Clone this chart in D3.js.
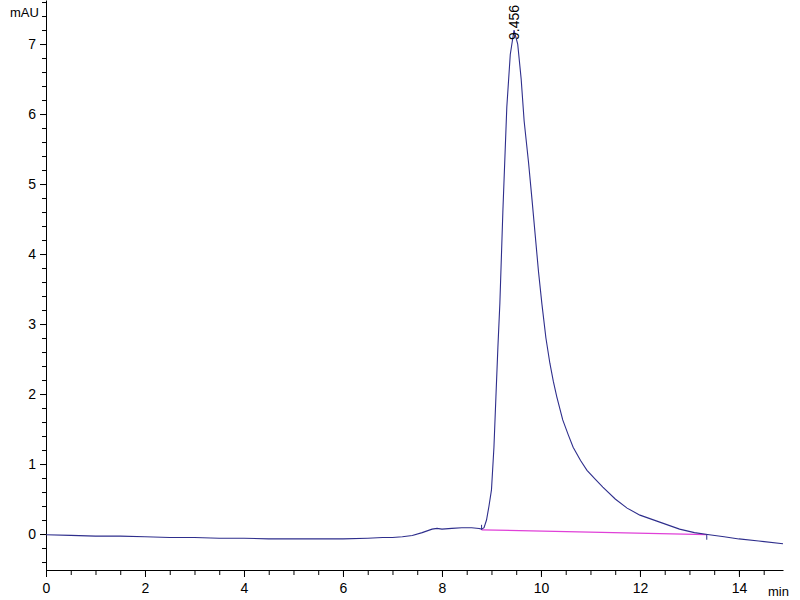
<!DOCTYPE html>
<html>
<head>
<meta charset="utf-8">
<script src="https://cdn.jsdelivr.net/npm/d3@7/dist/d3.min.js"></script>
<style>
  html, body { margin: 0; padding: 0; background: #fff; }
  svg text { font-family: "Liberation Sans", Arial, sans-serif; fill: #000; }
</style>
</head>
<body>
<svg id="chart" width="800" height="600"></svg>
<script>
// chromatogram trace (min, mAU)
var times = [0, 0.5, 1.0, 1.5, 2.0, 2.5, 3.0, 3.5, 4.0, 4.5, 5.0, 5.5, 6.0, 6.5, 6.8, 7.0, 7.2, 7.4, 7.6, 7.8, 7.9, 8.0, 8.2, 8.4, 8.6, 8.75, 8.8, 8.85, 8.9, 8.95, 9.0, 9.05, 9.09, 9.13, 9.17, 9.23, 9.31, 9.38, 9.456, 9.53, 9.6, 9.66, 9.75, 9.82, 9.95, 10.02, 10.1, 10.18, 10.25, 10.32, 10.44, 10.55, 10.65, 10.8, 10.93, 11.1, 11.25, 11.5, 11.74, 12.0, 12.4, 12.8, 13.1, 13.4, 13.7, 14.0, 14.4, 14.89];
var signal = [-0.01, -0.02, -0.03, -0.03, -0.04, -0.05, -0.05, -0.06, -0.06, -0.07, -0.07, -0.07, -0.07, -0.06, -0.05, -0.05, -0.04, -0.02, 0.02, 0.07, 0.08, 0.07, 0.08, 0.09, 0.09, 0.08, 0.07, 0.09, 0.2, 0.4, 0.63, 1.24, 1.96, 2.67, 3.3, 4.6, 6.1, 6.85, 7.2, 7.0, 6.5, 5.9, 5.3, 4.77, 3.75, 3.28, 2.8, 2.44, 2.18, 1.96, 1.63, 1.42, 1.24, 1.05, 0.91, 0.78, 0.67, 0.5, 0.37, 0.27, 0.17, 0.07, 0.02, -0.01, -0.04, -0.07, -0.1, -0.14];

// integration baseline
var baseTimes = [8.8, 13.35];
var baseValues = [0.06, -0.01];

var peakTime = 9.456;
var peakLabel = "9.456";

var xMajor = [0, 2, 4, 6, 8, 10, 12, 14];
var yMajor = [0, 1, 2, 3, 4, 5, 6, 7];

var svg = d3.select("#chart");
var x = d3.scaleLinear().domain([0, 14.89]).range([46, 783]);
var y = d3.scaleLinear().domain([-0.514, 7.629]).range([570, 0]);

// x axis
var xAxisMinor = d3.axisBottom(x).tickValues(d3.range(0, 14.9, 0.5)).tickSize(5).tickFormat("");
svg.append("g").attr("transform", "translate(0,570)").call(xAxisMinor)
  .call(function (g) { g.select(".domain").remove(); })
  .selectAll("line").attr("stroke", "#000");
var xAxis = d3.axisBottom(x).tickValues(xMajor).tickSize(7).tickSizeOuter(0).tickPadding(6);
svg.append("g").attr("transform", "translate(0,570)").call(xAxis)
  .call(function (g) {
    g.selectAll("text").attr("font-size", 14).attr("font-family", "Liberation Sans, Arial, sans-serif");
    g.select(".domain").attr("stroke", "#000");
  });

// y axis
var yAxisMinor = d3.axisLeft(y).tickValues(d3.range(-0.4, 7.7, 0.2)).tickSize(4).tickFormat("");
svg.append("g").attr("transform", "translate(46,0)").call(yAxisMinor)
  .call(function (g) { g.select(".domain").remove(); })
  .selectAll("line").attr("stroke", "#000");
var yAxis = d3.axisLeft(y).tickValues(yMajor).tickSize(6).tickSizeOuter(0).tickPadding(4);
svg.append("g").attr("transform", "translate(46,0)").call(yAxis)
  .call(function (g) {
    g.selectAll("text").attr("font-size", 14).attr("font-family", "Liberation Sans, Arial, sans-serif");
    g.select(".domain").attr("stroke", "#000");
  });

svg.append("text").attr("x", 10).attr("y", 17).attr("font-size", 13).text("mAU");
svg.append("text").attr("x", 768).attr("y", 596).attr("font-size", 13).text("min");

// baseline
var baseData = d3.zip(baseTimes, baseValues);
svg.append("path")
  .datum(baseData)
  .attr("fill", "none")
  .attr("stroke", "#e040d8")
  .attr("stroke-width", 1.3)
  .attr("d", d3.line().x(function (d) { return x(d[0]); }).y(function (d) { return y(d[1]); }));

// trace
var traceData = d3.zip(times, signal);
svg.append("path")
  .datum(traceData)
  .attr("fill", "none")
  .attr("stroke", "#2e2e8c")
  .attr("stroke-width", 1.1)
  .attr("d", d3.line().x(function (d) { return x(d[0]); }).y(function (d) { return y(d[1]); }));

// peak start / end markers
svg.append("line").attr("x1", x(baseTimes[0])).attr("x2", x(baseTimes[0]))
  .attr("y1", y(baseValues[0]) - 5).attr("y2", y(baseValues[0])).attr("stroke", "#2e2e8c");
svg.append("line").attr("x1", x(baseTimes[1])).attr("x2", x(baseTimes[1]))
  .attr("y1", y(baseValues[1])).attr("y2", y(baseValues[1]) + 5).attr("stroke", "#2e2e8c");

// peak label
svg.append("text")
  .attr("transform", "translate(" + (x(peakTime) + 5) + ",40) rotate(-90)")
  .attr("font-size", 14)
  .text(peakLabel);
</script>
</body>
</html>
